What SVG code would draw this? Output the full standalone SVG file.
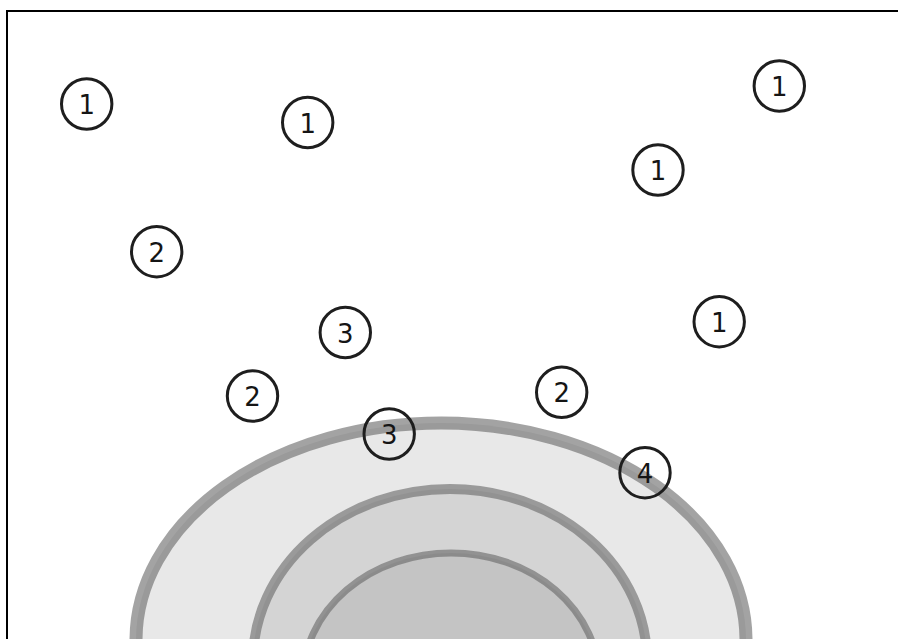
<svg xmlns="http://www.w3.org/2000/svg" width="898" height="639" viewBox="0 0 898 639">
  <style>
    .ring { stroke: #666666; stroke-opacity: 0.6; }
    .mark circle { fill: none; stroke: #1e1e1e; stroke-width: 3; }
    .mark text { font-family: "DejaVu Sans", "Liberation Sans", sans-serif; font-size: 26px; fill: #151515; text-anchor: middle; }
  </style>
  <rect x="0" y="0" width="898" height="639" fill="#ffffff"/>
  <rect x="7" y="11" width="960" height="700" fill="none" stroke="#000000" stroke-width="2"/>
  <g id="layers">
    <ellipse id="outer" class="ring" cx="441" cy="640" rx="305" ry="217" fill="#e8e8e8" stroke-width="13"/>
    <ellipse id="middle" class="ring" cx="450" cy="661" rx="197" ry="172" fill="#d4d4d4" stroke-width="10"/>
    <ellipse id="inner" class="ring" cx="451" cy="680" rx="148" ry="127" fill="#c4c4c4" stroke-width="7"/>
  </g>
  <g id="connectors"></g>
  <g id="n1a" class="mark"><circle cx="86.7" cy="104" r="25.2"/><text x="86.7" y="114">1</text></g>
  <g id="n1b" class="mark"><circle cx="307.7" cy="122.5" r="25.2"/><text x="307.7" y="132.5">1</text></g>
  <g id="n1c" class="mark"><circle cx="779.3" cy="86" r="25.2"/><text x="779.3" y="96">1</text></g>
  <g id="n1d" class="mark"><circle cx="658" cy="170" r="25.2"/><text x="658" y="180">1</text></g>
  <g id="n1e" class="mark"><circle cx="719.2" cy="321.7" r="25.2"/><text x="719.2" y="331.7">1</text></g>
  <g id="n2a" class="mark"><circle cx="156.7" cy="251.7" r="25.2"/><text x="156.7" y="261.7">2</text></g>
  <g id="n3a" class="mark"><circle cx="345.3" cy="332.5" r="25.2"/><text x="345.3" y="342.5">3</text></g>
  <g id="n2b" class="mark"><circle cx="252.5" cy="396" r="25.2"/><text x="252.5" y="406">2</text></g>
  <g id="n2c" class="mark"><circle cx="561.7" cy="392.3" r="25.2"/><text x="561.7" y="402.3">2</text></g>
  <g id="n3b" class="mark"><circle cx="389.2" cy="434" r="25.2"/><text x="389.2" y="444">3</text></g>
  <g id="n4" class="mark"><circle cx="645" cy="472.7" r="25.2"/><text x="645" y="482.7">4</text></g>
</svg>
